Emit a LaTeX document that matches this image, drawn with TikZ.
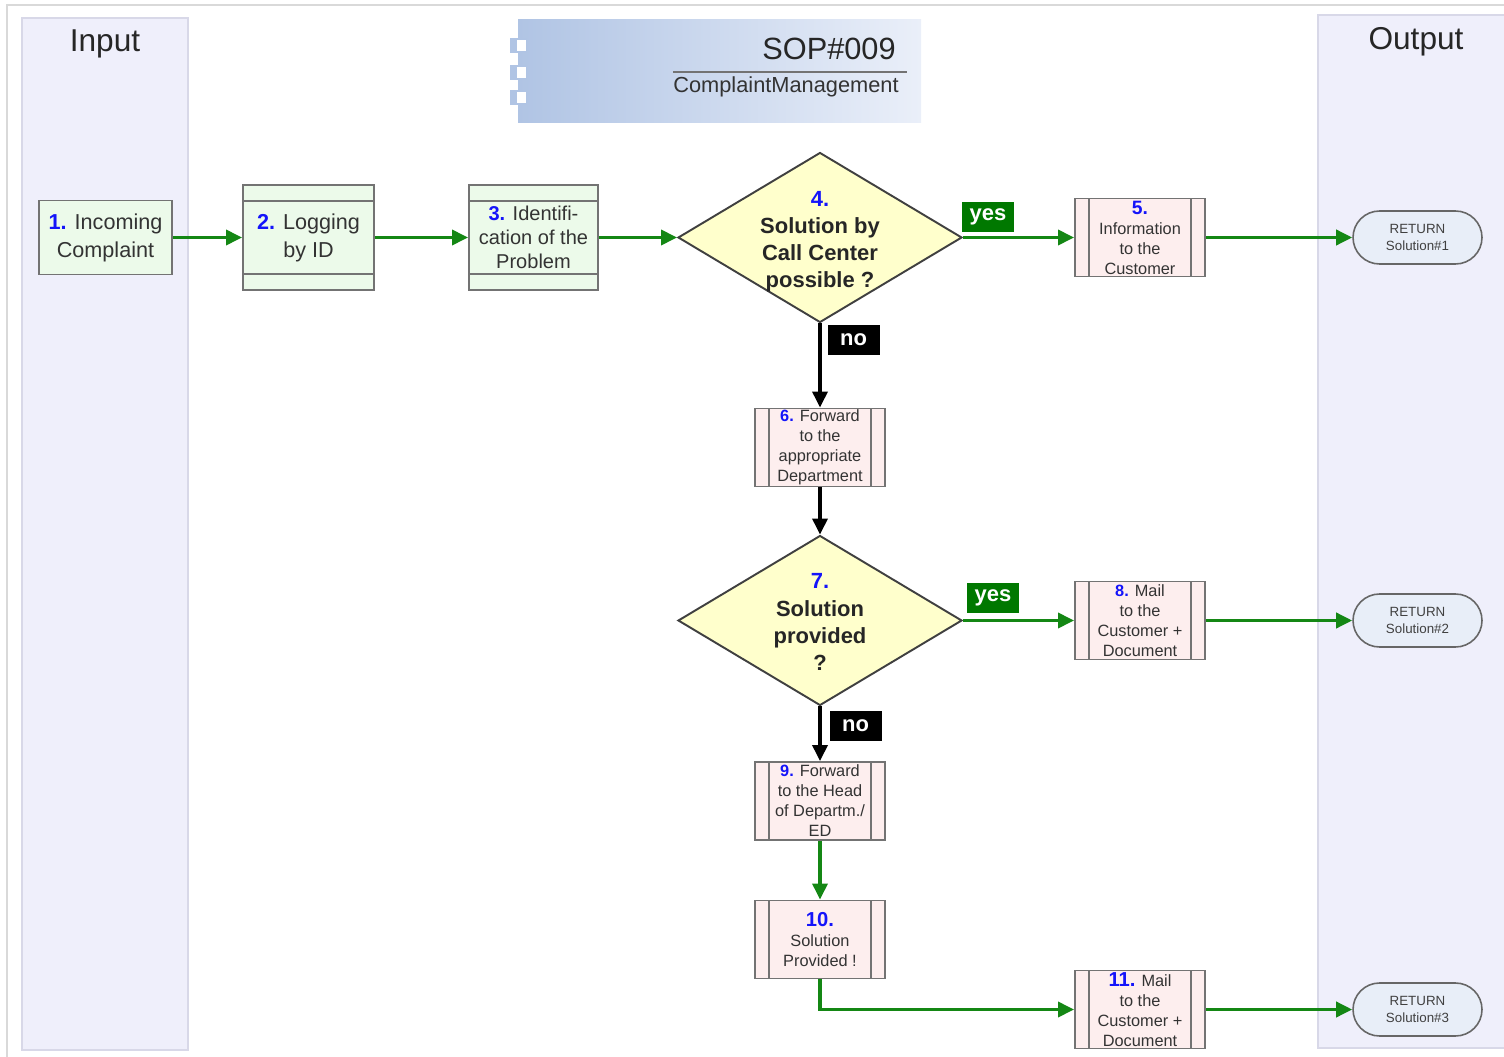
\documentclass[tikz,border=0pt]{standalone}
\usepackage{fontspec}
\setmainfont{Liberation Sans}
\usepackage{tikz}
\usetikzlibrary{shapes.geometric,shapes.misc,arrows.meta}
\definecolor{flowgreen}{RGB}{20,135,20}
\definecolor{yesgreen}{RGB}{0,120,0}
\definecolor{lanebg}{RGB}{239,239,251}
\definecolor{laneline}{RGB}{216,216,232}
\definecolor{boxgreen}{RGB}{236,250,234}
\definecolor{boxpink}{RGB}{253,238,238}
\definecolor{decide}{RGB}{255,255,204}
\definecolor{retfill}{RGB}{232,238,248}
\definecolor{numblue}{RGB}{20,20,250}
\definecolor{titleblue}{RGB}{176,196,228}
\definecolor{titlelight}{RGB}{234,239,249}
\newcommand{\stepno}[1]{\textcolor{numblue}{\bfseries #1}}
\tikzset{lane/.style={draw=laneline, fill=lanebg, line width=0.8pt},
lanetitle/.style={anchor=base, font=\fontsize{18}{20}\selectfont, text=black!85},
task/.style={draw=black!55, line width=1.1pt, align=center, text=black!80, inner sep=0pt,
  minimum width=2.6cm, minimum height=1.56cm},
greenbox/.style={task, fill=boxgreen, font=\fontsize{12.3}{15.9}\selectfont},
bandbox/.style={greenbox, minimum height=2.1cm,
  path picture={\draw[black!55, line width=1.1pt]
    ([yshift=-0.32cm]path picture bounding box.north west) -- ([yshift=-0.32cm]path picture bounding box.north east)
    ([yshift=0.32cm]path picture bounding box.south west) -- ([yshift=0.32cm]path picture bounding box.south east);}},
pinkbox/.style={task, fill=boxpink, font=\fontsize{9.3}{11.4}\selectfont,
  path picture={\draw[black!55, line width=1.1pt]
    ([xshift=0.28cm]path picture bounding box.north west) -- ([xshift=0.28cm]path picture bounding box.south west)
    ([xshift=-0.28cm]path picture bounding box.north east) -- ([xshift=-0.28cm]path picture bounding box.south east);}},
decision/.style={diamond, draw=black!75, line width=1.1pt, fill=decide, inner sep=0pt,
  minimum width=5.68cm, minimum height=3.4cm},
dtext/.style={align=center, font=\bfseries\fontsize{12.5}{15.4}\selectfont, text=black!85},
ret/.style={rounded rectangle, draw=black!60, line width=0.9pt, fill=retfill, inner sep=0pt,
  minimum width=2.58cm, minimum height=1.06cm, align=center, font=\fontsize{7.6}{9.7}\selectfont, text=black!75},
yeslabel/.style={fill=yesgreen, text=white, font=\bfseries\fontsize{12.5}{14}\selectfont, inner sep=0pt,
  minimum width=1.04cm, minimum height=0.6cm},
nolabel/.style={yeslabel, fill=black},
flowarrow/.style={draw=flowgreen, line width=2pt, -{Triangle[length=0.32cm,width=0.3cm]}},
noarrow/.style={flowarrow, draw=black}}

\begin{document}
\begin{tikzpicture}[x=0.02cm, y=-0.02cm]
\useasboundingbox (0,0) rectangle (1504,1057);
\draw[black!15, line width=1pt] (7,1057) -- (7,5) -- (1504,5);

% lanes
\draw[lane] (22,18) rectangle (188,1050);
\node[lanetitle] (input) at (105,52) {Input};
\draw[lane] (1318,15) rectangle (1512,1048);
\node[lanetitle] (output) at (1416,50) {Output};

% title
\shade[left color=titleblue, right color=titlelight] (518,20) rectangle (921,123);
\foreach \y in {38,65,90}{
  \fill[titleblue] (510,\y) rectangle (527,\y+15);
  \fill[white] (517,\y+2) rectangle (526,\y+13);}
\node[anchor=base east, font=\fontsize{17.5}{20}\selectfont, text=black!85, inner sep=0pt] (sop) at (896,60) {SOP\#009};
\draw[black!55, line width=1.2pt] (673,72) -- (907,72);
\node[anchor=base, font=\fontsize{12.4}{14}\selectfont, text=black!80, inner sep=0pt] (topic) at (786,93) {ComplaintManagement};

% steps
\node[greenbox, minimum width=2.66cm, minimum height=1.48cm] (n1) at (105.5,237.5) {\stepno{1.} Incoming\\Complaint};
\node[bandbox, minimum width=2.62cm] (n2) at (308.5,237.5) {\stepno{2.} Logging\\by ID};
\node[bandbox, minimum width=2.58cm, font=\fontsize{11.4}{13.7}\selectfont] (n3) at (533.5,237.5) {\stepno{3.} Identifi-\\cation of the\\Problem};
\node[decision, label={[dtext, yshift=-0.08cm]center:{\stepno{4.}\\Solution by\\Call Center\\possible ?}}] (d4) at (820,237.5) {};
\node[pinkbox] (n5) at (1140,237.5) {\stepno{\fontsize{11}{11.4}\selectfont 5.}\\Information\\to the\\Customer};
\node[pinkbox] (n6) at (820,447.5) {\stepno{6.} Forward\\to the\\appropriate\\Department};
\node[decision, label={[dtext, yshift=-0.03cm]center:{\stepno{7.}\\Solution\\provided\\?}}] (d7) at (820,620.5) {};
\node[pinkbox] (n8) at (1140,620.5) {\stepno{8.} Mail\\to the\\Customer +\\Document};
\node[pinkbox] (n9) at (820,801) {\stepno{9.} Forward\\to the Head\\of Departm./\\ED};
\node[pinkbox] (n10) at (820,939.5) {\stepno{\fontsize{11.5}{11.4}\selectfont 10.}\\Solution\\Provided !};
\node[pinkbox] (n11) at (1140,1009.5) {\stepno{\fontsize{11.5}{11.4}\selectfont 11.} Mail\\to the\\Customer +\\Document};

% returns
\foreach \i/\y in {1/237.5,2/620.5,3/1009.5}
  \node[ret] (r\i) at (1417.5,\y) {RETURN\\Solution\#\i};

% branch labels
\node[yeslabel] (yes1) at (988,217) {yes};
\node[nolabel] (no1) at (853.5,340) {no};
\node[yeslabel] (yes2) at (993,597.5) {yes};
\node[nolabel] (no2) at (855.5,726) {no};

% flow
\draw[flowarrow] (n1.east) -- (n2.west);
\draw[flowarrow] (n2.east) -- (n3.west);
\draw[flowarrow] (n3.east) -- (d4.west);
\draw[flowarrow] (d4.east) -- (n5.west);
\draw[flowarrow] (n5.east) -- (r1.west);
\draw[noarrow] (d4.south) -- (n6.north);
\draw[noarrow] (n6.south) -- (d7.north);
\draw[flowarrow] (d7.east) -- (n8.west);
\draw[flowarrow] (n8.east) -- (r2.west);
\draw[noarrow] (d7.south) -- (n9.north);
\draw[flowarrow] (n9.south) -- (n10.north);
\draw[flowarrow] (n10.south) |- (n11.west);
\draw[flowarrow] (n11.east) -- (r3.west);
\end{tikzpicture}
\end{document}
